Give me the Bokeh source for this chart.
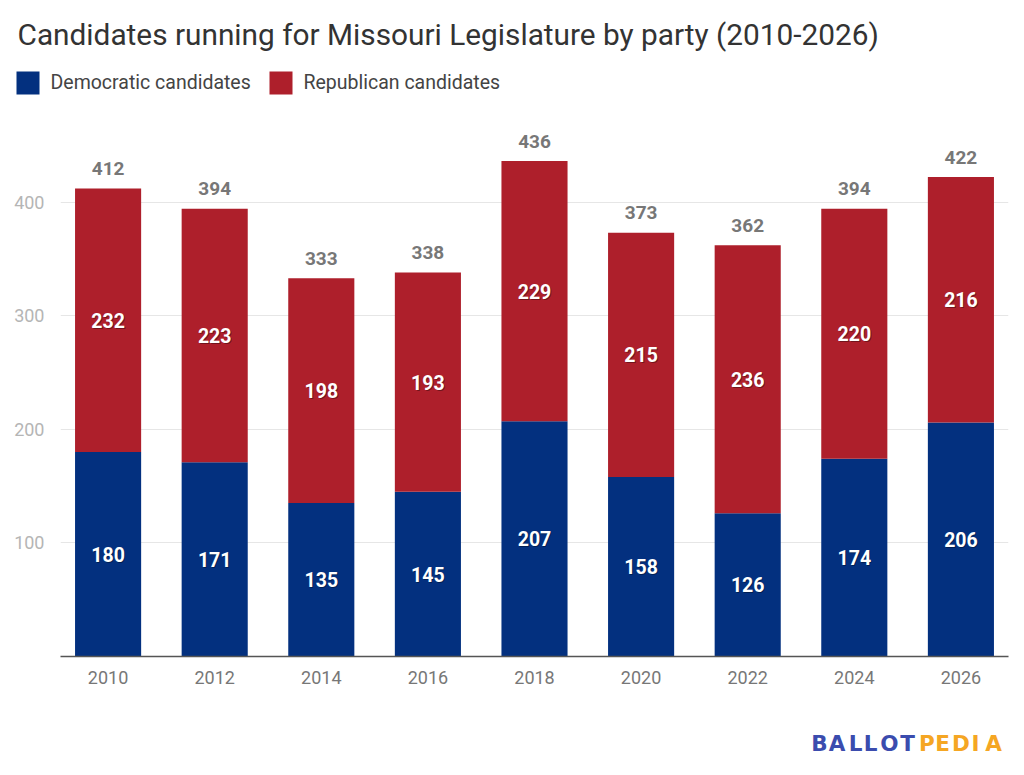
from bokeh.plotting import figure
from bokeh.layouts import column
from bokeh.models import ColumnDataSource, FactorRange, FixedTicker
from bokeh.core.properties import value
from bokeh.embed import file_html
from bokeh.resources import INLINE

# data
years = ["2010", "2012", "2014", "2016", "2018", "2020", "2022", "2024", "2026"]
democratic = [180, 171, 135, 145, 207, 158, 126, 174, 206]
republican = [232, 223, 198, 193, 229, 215, 236, 220, 216]
y_ticks = [100, 200, 300, 400]
series_names = ["Democratic candidates", "Republican candidates"]

BLUE = "#03307f"
RED = "#ae1f2b"
FONT = "Roboto"
W = 1024

totals = [d + r for d, r in zip(democratic, republican)]
source = ColumnDataSource(dict(
    year=years,
    dem=democratic,
    rep=republican,
    total=totals,
    dem_mid=[d / 2 for d in democratic],
    rep_mid=[d + r / 2 for d, r in zip(democratic, republican)],
    dem_lbl=[str(d) for d in democratic],
    rep_lbl=[str(r) for r in republican],
    total_lbl=[str(t) for t in totals],
))


def blank(height):
    # a bare figure whose data units are pixels (y going down)
    f = figure(width=W, height=height, x_range=(0, W), y_range=(height, 0),
               title=None, output_backend="svg", toolbar_location=None,
               x_axis_location=None, y_axis_location=None, min_border=0,
               frame_align=False)
    f.grid.visible = False
    f.outline_line_color = None
    return f


# ---- header: title + legend
head = blank(108)
head.text(x=[17], y=[34], text=["Candidates running for Missouri Legislature by party (2010-2026)"],
          text_font=value(FONT), text_font_size="29.8px", text_color="#333333",
          text_baseline="middle")
head.quad(left=[16, 269], right=[39, 292], top=[71, 71], bottom=[94, 94],
          fill_color=[BLUE, RED], line_color=None)
head.text(x=[50, 303], y=[82, 82], text=series_names,
          text_font=value(FONT), text_font_size="19.5px", text_color="#444444",
          text_baseline="middle")

# ---- main chart
p = figure(
    x_range=FactorRange(*years, range_padding=-0.0119),
    y_range=(0, 482.3),
    width=W, height=588, title=None,
    output_backend="svg", toolbar_location=None,
    min_border_left=60, min_border_right=16,
    min_border_top=0, min_border_bottom=40,
    frame_align=False,
)

p.vbar_stack(["dem", "rep"], x="year", width=0.62, color=[BLUE, RED],
             line_color=None, source=source)

# totals above the bars
p.text(x="year", y="total", text="total_lbl", source=source, y_offset=-20,
       text_align="center", text_baseline="alphabetic",
       text_font=value(FONT), text_font_style="bold", text_font_size="19px",
       text_color="#777777")

# labels inside the segments (with a soft shadow)
for col, mid in (("dem_lbl", "dem_mid"), ("rep_lbl", "rep_mid")):
    p.text(x="year", y=mid, text=col, source=source, x_offset=1, y_offset=1,
           text_align="center", text_baseline="middle",
           text_font=value(FONT), text_font_style="bold", text_font_size="19.5px",
           text_color="black", text_alpha=0.35)
    p.text(x="year", y=mid, text=col, source=source,
           text_align="center", text_baseline="middle",
           text_font=value(FONT), text_font_style="bold", text_font_size="19.5px",
           text_color="white")

p.xaxis.axis_line_color = "#555555"
p.xaxis.axis_line_width = 1.5
p.xaxis.major_tick_line_color = None
p.xaxis.minor_tick_line_color = None
p.xaxis.major_label_text_font = FONT
p.xaxis.major_label_text_font_size = "18px"
p.xaxis.major_label_text_color = "#777777"
p.xaxis.major_label_standoff = 8

p.yaxis.ticker = FixedTicker(ticks=y_ticks)
p.yaxis.axis_line_color = None
p.yaxis.major_tick_line_color = None
p.yaxis.minor_tick_line_color = None
p.yaxis.major_label_text_font = FONT
p.yaxis.major_label_text_font_size = "18px"
p.yaxis.major_label_text_color = "#b5b5b5"
p.yaxis.major_label_standoff = 10

p.xgrid.grid_line_color = None
p.ygrid.grid_line_color = "#e6e6e6"
p.outline_line_color = None

# ---- footer: letter-spaced logo
foot = blank(79)
logo_letters = list("BALLOTPEDIA")
logo_x = [819, 836.5, 855, 870, 889, 907, 926.5, 942, 960.5, 975, 993]
logo_colors = ["#3b4cae"] * 6 + ["#f5a623"] * 5
foot.text(x=logo_x, y=[47] * 11, text=logo_letters, text_color=logo_colors,
          text_align="center", text_baseline="middle",
          text_font=value("DejaVu Sans"), text_font_style="bold", text_font_size="21.5px")

layout = column(head, p, foot, spacing=0)
open("out.html", "w").write(file_html(layout, INLINE))
